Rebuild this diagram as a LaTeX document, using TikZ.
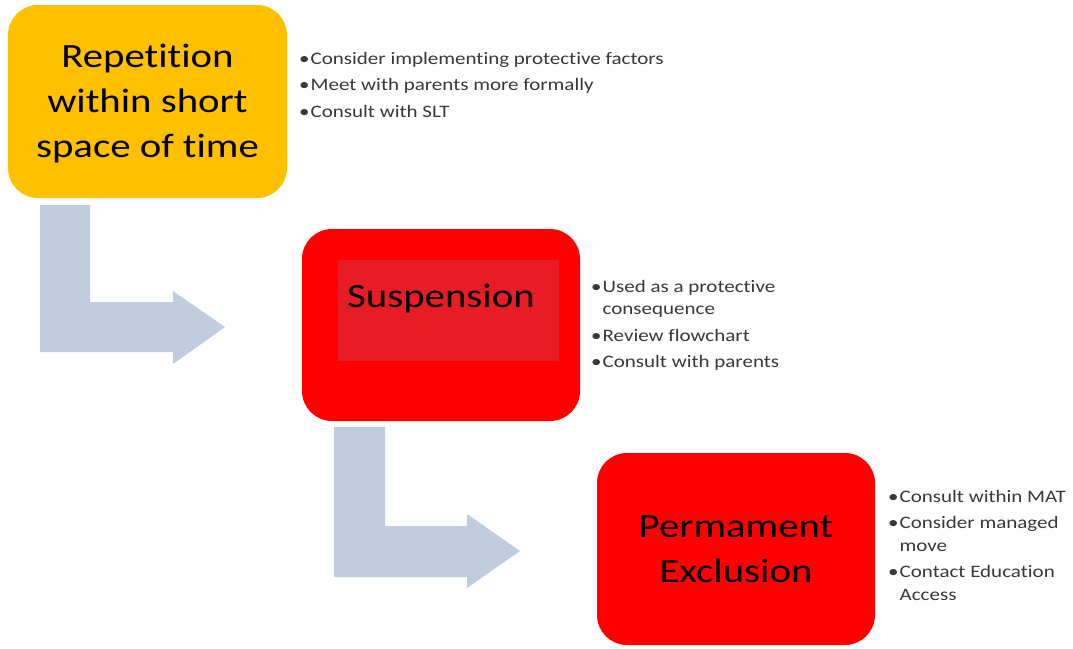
\documentclass[tikz,border=0pt]{standalone}
\usepackage{fontspec}
\setmainfont{Carlito}[FakeStretch=1.2, Ligatures=NoCommon]
\definecolor{amber}{RGB}{255,192,0}
\definecolor{alarm}{RGB}{255,0,0}
\definecolor{alarmdark}{RGB}{232,28,36}
\definecolor{steel}{RGB}{192,204,224}
\definecolor{note}{RGB}{56,56,56}
\begin{document}
\begin{tikzpicture}[x=1pt,y=-1pt,
  title/.style={anchor=base, inner sep=0pt, text=black,
    font=\fontsize{34}{45}\selectfont},
  notes/.style={anchor=base west, inner sep=0pt, text=note},
  bentarrow/.style={fill=steel}]
  \useasboundingbox[fill=white] (0,0) rectangle (1073,648);

  % stage boxes
  \fill[amber, rounded corners=30pt] (8,5) rectangle (287,198);
  \fill[alarm, rounded corners=30pt] (302,229) rectangle (580,421);
  \fill[alarmdark] (338,260) rectangle (559,361);
  \fill[alarm, rounded corners=30pt] (597,453) rectangle (875,645);

  % bent arrows between stages
  \fill[bentarrow] (40,205) -- (90,205) -- (90,302) -- (173,302) -- (173,291)
    -- (225,327) -- (173,364) -- (173,352) -- (40,352) -- cycle;
  \fill[bentarrow] (334,427) -- (385,427) -- (385,526) -- (467,526) -- (467,514)
    -- (520,551) -- (467,588) -- (467,577) -- (334,577) -- cycle;

  % stage titles
  \node[title] (t1) at (147.5,67)
    {\begin{tabular}[t]{@{}c@{}}Repetition\\within short\\space of time\end{tabular}};
  \node[title] (t2) at (441,307) {Suspension};
  \node[title] (t3) at (736,537)
    {\begin{tabular}[t]{@{}c@{}}Permament\\Exclusion\end{tabular}};

  % actions for each stage
  \node[notes] (n1) at (299,64) {\fontsize{17.5}{26.5}\selectfont
    \begin{tabular}[t]{@{}l@{\hspace{1pt}}l@{}}
    • & Consider implementing protective factors\\
    • & Meet with parents more formally\\
    • & Consult with SLT
    \end{tabular}};
  \node[notes] (n2) at (591,292) {\fontsize{17.5}{22.5}\selectfont
    \begin{tabular}[t]{@{}l@{\hspace{1pt}}l@{}}
    • & Used as a protective\\
      & consequence\\[4pt]
    • & Review flowchart\\[4pt]
    • & Consult with parents
    \end{tabular}};
  \node[notes] (n3) at (888,502) {\fontsize{17.5}{23}\selectfont
    \begin{tabular}[t]{@{}l@{\hspace{1pt}}l@{}}
    • & Consult within MAT\\[3pt]
    • & Consider managed\\
      & move\\[3pt]
    • & Contact Education\\
      & Access
    \end{tabular}};
\end{tikzpicture}
\end{document}
